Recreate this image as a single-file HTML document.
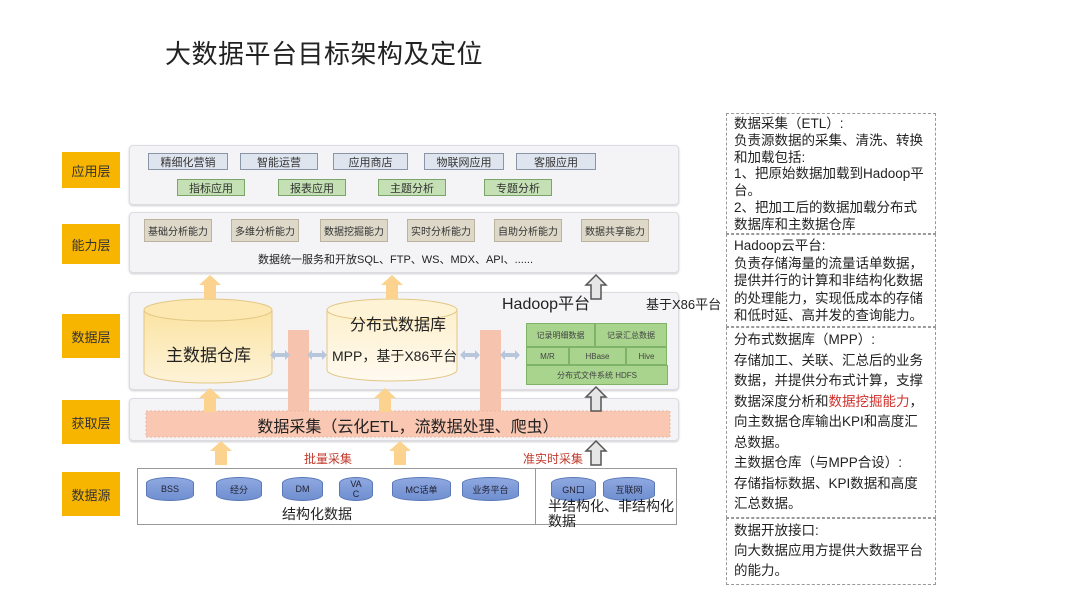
<!DOCTYPE html>
<html><head><meta charset="utf-8"><style>
*{margin:0;padding:0;box-sizing:border-box}
body{width:1080px;height:608px;background:#fff;position:relative;overflow:hidden;font-family:"Liberation Sans","Noto Sans CJK SC",sans-serif;color:#222}
.a{position:absolute}
.lab{position:absolute;left:62px;width:58px;background:#f7b500;color:#333;font-size:13px;display:flex;align-items:center;justify-content:center}
.pan{position:absolute;left:129px;width:550px;background:#f4f4f7;border:1px solid #dcdce2;border-radius:4px;box-shadow:0 1px 2px #ccc}
.b{position:absolute;font-size:11px;display:flex;align-items:center;justify-content:center;border:1px solid #8a96a8;background:#dfe5ee;color:#333}
.g{background:#c4e0b4;border-color:#7aa56a}
.t{background:#ddd8c8;border-color:#bbb3a0;font-size:10px}
.cyl{position:absolute;border:1px solid #5a78b8;border-radius:50%/6px;font-size:9px;color:#223;display:flex;align-items:center;justify-content:center;background:linear-gradient(#8fa8e0,#6f8fd0)}
.rb{position:absolute;left:726px;width:210px;border:1px dashed #999;font-size:13.5px;padding:1px 7px;color:#222;white-space:nowrap;overflow:hidden}
.hd{position:absolute;background:#a8d48e;border:1px solid #7fb468;font-size:8px;color:#444;display:flex;align-items:center;justify-content:center}
</style></head><body>
<div class="a" style="left:165px;top:34px;font-size:26px;color:#222;letter-spacing:0.5px">大数据平台目标架构及定位</div>

<div class="lab" style="top:152px;height:36px">应用层</div>
<div class="lab" style="top:224px;height:40px">能力层</div>
<div class="lab" style="top:314px;height:44px">数据层</div>
<div class="lab" style="top:400px;height:44px">获取层</div>
<div class="lab" style="top:472px;height:44px">数据源</div>

<div class="pan" style="top:145px;height:60px"></div>
<div class="b" style="left:148px;top:153px;width:80px;height:17px">精细化营销</div>
<div class="b" style="left:240px;top:153px;width:78px;height:17px">智能运营</div>
<div class="b" style="left:333px;top:153px;width:75px;height:17px">应用商店</div>
<div class="b" style="left:424px;top:153px;width:80px;height:17px">物联网应用</div>
<div class="b" style="left:516px;top:153px;width:80px;height:17px">客服应用</div>
<div class="b g" style="left:177px;top:179px;width:68px;height:17px">指标应用</div>
<div class="b g" style="left:278px;top:179px;width:68px;height:17px">报表应用</div>
<div class="b g" style="left:378px;top:179px;width:68px;height:17px">主题分析</div>
<div class="b g" style="left:484px;top:179px;width:68px;height:17px">专题分析</div>

<div class="pan" style="top:212px;height:61px"></div>
<div class="b t" style="left:144px;top:219px;width:68px;height:23px">基础分析能力</div>
<div class="b t" style="left:231px;top:219px;width:68px;height:23px">多维分析能力</div>
<div class="b t" style="left:320px;top:219px;width:68px;height:23px">数据挖掘能力</div>
<div class="b t" style="left:407px;top:219px;width:68px;height:23px">实时分析能力</div>
<div class="b t" style="left:494px;top:219px;width:68px;height:23px">自助分析能力</div>
<div class="b t" style="left:581px;top:219px;width:68px;height:23px">数据共享能力</div>
<div class="a" style="left:258px;top:251px;font-size:11px">数据统一服务和开放SQL、FTP、WS、MDX、API、......</div>

<div class="pan" style="top:292px;height:98px"></div>
<div class="pan" style="top:398px;height:43px"></div>

<svg class="a" style="left:0;top:0" width="1080" height="608">
<defs>
<linearGradient id="cy" x1="0" y1="0" x2="0" y2="1"><stop offset="0" stop-color="#fbe3a2"/><stop offset="1" stop-color="#fdf3d8"/></linearGradient>
<linearGradient id="cy2" x1="0" y1="0" x2="0" y2="1"><stop offset="0" stop-color="#fdf0cc"/><stop offset="1" stop-color="#fffaf0"/></linearGradient>
<g id="ua"><path d="M-6 22V8h-5L0-2 11 8H6v14z" fill="#fbd38e"/></g>
<g id="ug"><path d="M-5 22V8h-5L0-2 10 8H5v14z" fill="#e6e6e6" stroke="#555" stroke-width="1.5"/></g>
<g id="da"><path d="M-10 0l5-5v3h10v-3l5 5-5 5v-3h-10v3z" fill="#b8c6dc"/></g>
</defs>
<path d="M144 310v62a64 11 0 0 0 128 0v-62" fill="url(#cy)" stroke="#e3c684"/>
<ellipse cx="208" cy="310" rx="64" ry="11" fill="#fce8b0" stroke="#e3c684"/>
<path d="M327 310v60a65 11 0 0 0 130 0v-60" fill="url(#cy2)" stroke="#e3c684"/>
<ellipse cx="392" cy="310" rx="65" ry="11" fill="#fff3d6" stroke="#e3c684"/>
<rect x="288" y="330" width="21" height="82" fill="#f6c3ae"/>
<rect x="480" y="330" width="21" height="82" fill="#f6c3ae"/>
<rect x="146" y="411" width="524" height="26" fill="#f9c7b2" stroke="#e8b8a0" stroke-dasharray="2 2"/>
<use href="#da" x="280" y="355"/><use href="#da" x="317" y="355"/>
<use href="#da" x="470" y="355"/><use href="#da" x="510" y="355"/>
<use href="#ua" x="210" y="277"/><use href="#ua" x="392" y="277"/><use href="#ug" x="596" y="277"/>
<use href="#ua" x="210" y="390"/><use href="#ua" x="385" y="390"/><use href="#ug" x="596" y="389"/>
<use href="#ua" x="221" y="443"/><use href="#ua" x="400" y="443"/><use href="#ug" x="596" y="443"/>
<rect x="137.5" y="468.5" width="539" height="56" fill="#fff" stroke="#999"/>
<line x1="535.5" y1="468" x2="535.5" y2="525" stroke="#999"/>
</svg>

<div class="a" style="left:166px;top:341px;font-size:17px">主数据仓库</div>
<div class="a" style="left:350px;top:311px;font-size:16px">分布式数据库</div>
<div class="a" style="left:332px;top:346px;font-size:14px">MPP，基于X86平台</div>
<div class="a" style="left:502px;top:290px;font-size:16px">Hadoop平台</div>
<div class="a" style="left:646px;top:294px;font-size:13px">基于X86平台</div>

<div class="hd" style="left:526px;top:323px;width:69px;height:24px">记录明细数据</div>
<div class="hd" style="left:595px;top:323px;width:72px;height:24px">记录汇总数据</div>
<div class="hd" style="left:526px;top:347px;width:43px;height:18px">M/R</div>
<div class="hd" style="left:569px;top:347px;width:57px;height:18px">HBase</div>
<div class="hd" style="left:626px;top:347px;width:41px;height:18px">Hive</div>
<div class="hd" style="left:526px;top:365px;width:142px;height:20px">分布式文件系统 HDFS</div>

<div class="a" style="left:146px;top:413px;width:524px;text-align:center;font-size:16px">数据采集（云化ETL，流数据处理、爬虫）</div>

<div class="a" style="left:304px;top:450px;font-size:12px;color:#c0392b">批量采集</div>
<div class="a" style="left:523px;top:450px;font-size:12px;color:#c0392b">准实时采集</div>

<div class="cyl" style="left:146px;top:477px;width:48px;height:24px">BSS</div>
<div class="cyl" style="left:216px;top:477px;width:46px;height:24px">经分</div>
<div class="cyl" style="left:282px;top:477px;width:41px;height:24px">DM</div>
<div class="cyl" style="left:339px;top:477px;width:34px;height:24px;line-height:10px;text-align:center">VA<br>C</div>
<div class="cyl" style="left:392px;top:477px;width:59px;height:24px">MC话单</div>
<div class="cyl" style="left:462px;top:477px;width:57px;height:24px">业务平台</div>
<div class="cyl" style="left:551px;top:477px;width:45px;height:24px">GN口</div>
<div class="cyl" style="left:603px;top:477px;width:52px;height:24px">互联网</div>
<div class="a" style="left:282px;top:504px;font-size:14px">结构化数据</div>
<div class="a" style="left:548px;top:499px;font-size:14px;line-height:15px;white-space:nowrap">半结构化、非结构化<br>数据</div>

<div class="rb" style="top:113px;height:121px;line-height:16.8px;padding-top:2px">数据采集（ETL）:<br>负责源数据的采集、清洗、转换<br>和加载包括:<br>1、把原始数据加载到Hadoop平<br>台。<br>2、把加工后的数据加载分布式<br>数据库和主数据仓库</div>
<div class="rb" style="top:234px;height:93px;line-height:17.5px;padding-top:2px">Hadoop云平台:<br>负责存储海量的流量话单数据，<br>提供并行的计算和非结构化数据<br>的处理能力，实现低成本的存储<br>和低时延、高并发的查询能力。</div>
<div class="rb" style="top:327px;height:191px;line-height:20.5px;padding-top:2px">分布式数据库（MPP）:<br>存储加工、关联、汇总后的业务<br>数据，并提供分布式计算，支撑<br>数据深度分析和<span style="color:#d0302a">数据挖掘能力</span>，<br>向主数据仓库输出KPI和高度汇<br>总数据。<br>主数据仓库（与MPP合设）:<br>存储指标数据、KPI数据和高度<br>汇总数据。</div>
<div class="rb" style="top:518px;height:67px;line-height:20px;padding-top:2px">数据开放接口:<br>向大数据应用方提供大数据平台<br>的能力。</div>
</body></html>
